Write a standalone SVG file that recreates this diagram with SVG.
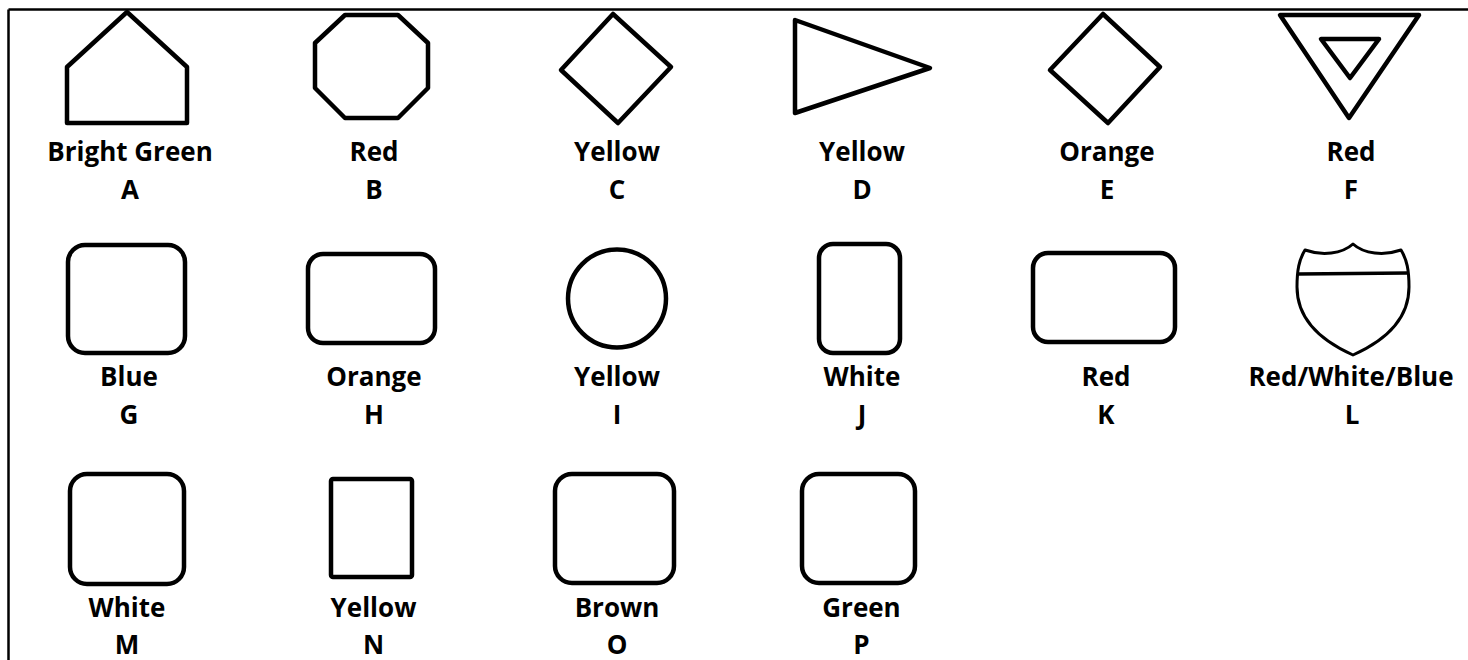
<svg xmlns="http://www.w3.org/2000/svg" width="1468" height="660" viewBox="0 0 1468 660">
<style>
.s{fill:#fff;stroke:#000;stroke-width:4.5;stroke-linejoin:round}
.t{stroke-width:3}
text{font-family:"Open Sans","Liberation Sans",sans-serif;font-weight:bold;font-size:26px;fill:#000;text-anchor:middle}
</style>
<rect width="1468" height="660" fill="#fff"/>
<g id="frame" stroke="#000" stroke-width="2.5" fill="none">
<line x1="8.5" y1="9.5" x2="1468" y2="9.5"/>
<line x1="8.5" y1="9.5" x2="8.5" y2="660"/>
</g>
<g id="connectors"></g>
<g id="A"><polygon class="s" points="127,12 187,67 187,123 67,123 67,67"/><text x="130" y="161">Bright Green</text><text x="130" y="199">A</text></g>
<g id="B"><polygon class="s" points="345,15 398,15 428,43 428,88 398,118 345,118 315,88 315,43"/><text x="374" y="161">Red</text><text x="374" y="199">B</text></g>
<g id="C"><polygon class="s" points="613,14 671,67 618,123 561,70"/><text x="617" y="161">Yellow</text><text x="617" y="199">C</text></g>
<g id="D"><polygon class="s" points="795,20 930,68 795,113"/><text x="862" y="161">Yellow</text><text x="862" y="199">D</text></g>
<g id="E"><polygon class="s" points="1103,14 1160,67 1108,123 1050,70"/><text x="1107" y="161">Orange</text><text x="1107" y="199">E</text></g>
<g id="F"><polygon class="s" points="1280,15 1419,15 1349,118"/><polygon class="s" points="1321,39 1379,39 1350,78"/><text x="1351" y="161">Red</text><text x="1351" y="199">F</text></g>
<g id="G"><rect class="s" x="68" y="245" width="117" height="108" rx="17"/><text x="129" y="386">Blue</text><text x="129" y="424">G</text></g>
<g id="H"><rect class="s" x="308" y="254" width="127" height="89" rx="15"/><text x="374" y="386">Orange</text><text x="374" y="424">H</text></g>
<g id="I"><circle class="s" cx="617" cy="298.5" r="49"/><text x="617" y="386">Yellow</text><text x="617" y="424">I</text></g>
<g id="J"><rect class="s" x="819" y="244" width="81" height="109" rx="14"/><text x="862" y="386">White</text><text x="862" y="424">J</text></g>
<g id="K"><rect class="s" x="1033" y="253" width="142" height="89" rx="15"/><text x="1106" y="386">Red</text><text x="1106" y="424">K</text></g>
<g id="L"><path class="s t" d="M1305,250 C1322,256 1342,254 1353,244 C1364,254 1384,256 1401,250 C1407,260 1409,270 1409,287 C1409,322 1382,342 1353,355 C1324,342 1297,322 1297,287 C1297,270 1299,260 1305,250 Z"/><line x1="1298" y1="274" x2="1408" y2="273" stroke="#000" stroke-width="3.5"/><text x="1351" y="386">Red/White/Blue</text><text x="1352" y="424">L</text></g>
<g id="M"><rect class="s" x="70" y="474" width="114" height="110" rx="17"/><text x="127" y="617">White</text><text x="127" y="654">M</text></g>
<g id="N"><rect class="s" x="331" y="479" width="81" height="98" rx="2"/><text x="373.5" y="617">Yellow</text><text x="373.5" y="654">N</text></g>
<g id="O"><rect class="s" x="555" y="474" width="119" height="109" rx="17"/><text x="617" y="617">Brown</text><text x="617" y="654">O</text></g>
<g id="P"><rect class="s" x="802" y="474" width="113" height="109" rx="17"/><text x="861.5" y="617">Green</text><text x="861.5" y="654">P</text></g>
</svg>
